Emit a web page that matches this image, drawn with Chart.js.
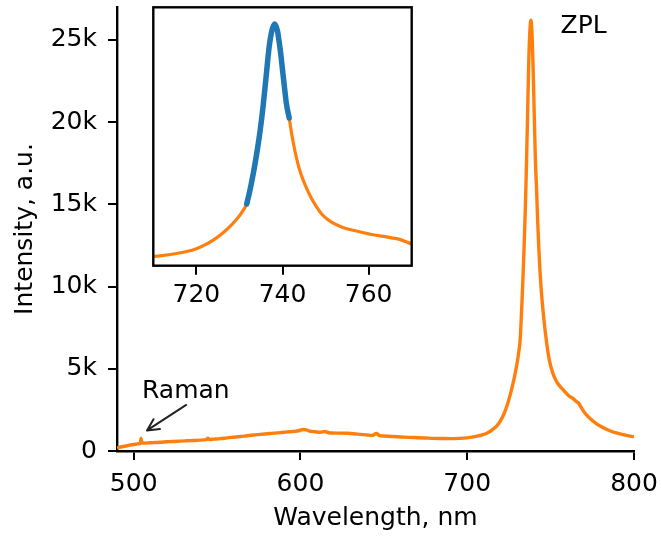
<!DOCTYPE html>
<html>
<head>
<meta charset="utf-8">
<script src="https://cdn.jsdelivr.net/npm/chart.js@4/dist/chart.umd.min.js"></script>
<style>
  html, body { margin: 0; padding: 0; background: #fff; }
  #wrap { position: relative; width: 661px; height: 536px; }
  #mainChart { position: absolute; left: 0; top: 0; }
  #insetChart { position: absolute; left: 140px; top: 0; }
</style>
</head>
<body>
<div id="wrap">
  <canvas id="mainChart" width="661" height="536"></canvas>
  <canvas id="insetChart" width="290" height="310"></canvas>
</div>
<script>
// PL spectrum, nm / counts
const wavelength = [
  490, 493, 496, 499, 502, 504, 504.4, 504.8, 507, 510, 513, 516, 520, 524, 528,
  532, 536, 540, 543.5, 544.5, 545.5, 548, 552, 556, 560, 564, 568, 572, 576, 580,
  584, 588, 592, 596, 599, 601.5, 603.5, 606, 609, 612, 614.5, 617, 620, 624, 628,
  632, 636, 640, 643, 645.5, 647.5, 650, 655, 660, 665, 670, 675, 680, 685, 690,
  695, 700, 703, 706, 709, 712, 715, 718, 720, 722, 724, 726, 728, 730, 731, 731.7,
  732.5, 733.3, 734.0, 734.8, 735.5, 736.2, 736.9, 737.5, 738.15, 738.8, 739.5, 740.2, 740.9, 741.55,
  742.2, 742.9, 743.6, 744.3, 745.3, 746.5, 747.8, 749.1, 750.5, 752, 754, 756.8, 760.7, 763.5,
  765.3, 766.5, 767.5, 769.2, 771.5, 774, 777, 780, 783.5, 787, 791, 795.5, 800
];
const intensity = [
  200, 260, 320, 380, 430, 470, 760, 520, 480, 500, 515, 530, 560, 575, 600,
  620, 640, 660, 690, 780, 700, 720, 750, 800, 840, 880, 930, 975, 1010, 1050,
  1090, 1120, 1160, 1190, 1230, 1310, 1280, 1200, 1170, 1140, 1190, 1110, 1090, 1085, 1075,
  1050, 1010, 975, 950, 1060, 935, 910, 880, 855, 830, 810, 790, 770, 760, 750,
  765, 800, 840, 900, 980, 1100, 1290, 1560, 1850, 2250, 2800, 3500, 4350, 5400, 6100, 6700,
  8300, 10200, 12100, 14600, 17300, 20500, 23700, 25400, 26200, 25500, 23300, 20400, 17600, 16000,
  14100, 12400, 11000, 9900, 8700, 7500, 6450, 5600, 5000, 4550, 4150, 3800, 3380, 3180,
  3020, 2930, 2800, 2500, 2200, 1950, 1700, 1500, 1320, 1170, 1060, 950, 860
];

// fitted ZPL line
const fitWavelength = [
  731.7, 732.5, 733.3, 734.0, 734.8, 735.5, 736.2, 736.9, 737.5, 738.15,
  738.8, 739.5, 740.2, 740.9, 741.55
];
const fitIntensity = [
  6700, 8300, 10200, 12100, 14600, 17300, 20500, 23700, 25400, 26200,
  25500, 23300, 20400, 17600, 16000
];

const mainXTicks = [500, 600, 700, 800];
const mainYTicks = [0, 5000, 10000, 15000, 20000, 25000];
const insetXTicks = [720, 740, 760];

const orange = '#ff7f0e';
const blue = '#1f77b4';
const font = { family: '"DejaVu Sans"', size: 25 };

const toPoints = (xs, ys) => xs.map((x, i) => ({ x: x, y: ys[i] }));
const spectrum = toPoints(wavelength, intensity);
const fit = toPoints(fitWavelength, fitIntensity);

const kLabel = v => v === 0 ? '0' : (v / 1000) + 'k';

const tickGrid = {
  drawOnChartArea: false,
  drawTicks: true,
  tickLength: 9,
  tickWidth: 2,
  tickColor: '#000',
  lineWidth: 2
};

// keep the plot box where the layout padding puts it
const noEdgePadding = s => {
  s.paddingTop = 0;
  s.paddingBottom = 0;
  s.paddingLeft = 0;
  s.paddingRight = 0;
};

// text labels and the Raman arrow, placed in data units
const annotations = {
  id: 'annotations',
  afterDatasetsDraw(chart) {
    const { ctx } = chart;
    const x = chart.scales.x, y = chart.scales.y;
    ctx.save();
    ctx.font = '25px "DejaVu Sans"';
    ctx.fillStyle = '#000';
    ctx.textBaseline = 'alphabetic';
    ctx.textAlign = 'left';
    ctx.fillText('ZPL', x.getPixelForValue(756), y.getPixelForValue(25400));
    ctx.fillText('Raman', x.getPixelForValue(505), y.getPixelForValue(3240));

    const x0 = x.getPixelForValue(531.5), y0 = y.getPixelForValue(2800);
    const x1 = x.getPixelForValue(508), y1 = y.getPixelForValue(1250);
    const a = Math.atan2(y1 - y0, x1 - x0);
    const len = 13, half = 0.47;
    ctx.strokeStyle = '#222';
    ctx.lineWidth = 2;
    ctx.lineCap = 'round';
    ctx.lineJoin = 'round';
    ctx.beginPath();
    ctx.moveTo(x0, y0);
    ctx.lineTo(x1, y1);
    ctx.moveTo(x1 - len * Math.cos(a - half), y1 - len * Math.sin(a - half));
    ctx.lineTo(x1, y1);
    ctx.lineTo(x1 - len * Math.cos(a + half), y1 - len * Math.sin(a + half));
    ctx.stroke();
    ctx.restore();
  }
};

const mainChart = new Chart(document.getElementById('mainChart').getContext('2d'), {
  type: 'line',
  data: {
    datasets: [{
      data: spectrum,
      borderColor: orange,
      borderWidth: 3.4,
      pointRadius: 0,
      fill: false,
      cubicInterpolationMode: 'monotone',
      borderJoinStyle: 'round'
    }]
  },
  options: {
    responsive: false,
    animation: false,
    events: [],
    layout: { padding: { top: 7, right: 27, left: 0, bottom: 0 } },
    plugins: { legend: { display: false }, tooltip: { enabled: false } },
    scales: {
      x: {
        type: 'linear',
        min: 490,
        max: 800,
        afterBuildTicks: s => { s.ticks = mainXTicks.map(v => ({ value: v })); },
        afterFit: s => { s.height = 85; noEdgePadding(s); },
        grid: tickGrid,
        border: { display: true, color: '#000', width: 2.4 },
        ticks: { font: font, color: '#000', padding: 9, maxRotation: 0, autoSkip: false },
        title: { display: true, text: 'Wavelength, nm', font: font, color: '#000', padding: { top: 0, bottom: 3 } }
      },
      y: {
        type: 'linear',
        min: 0,
        max: 27000,
        afterBuildTicks: s => { s.ticks = mainYTicks.map(v => ({ value: v })); },
        afterFit: s => { s.width = 117; noEdgePadding(s); },
        grid: tickGrid,
        border: { display: true, color: '#000', width: 2.4 },
        ticks: { font: font, color: '#000', padding: 11, callback: kLabel },
        title: { display: true, text: 'Intensity, a.u.', font: font, color: '#000', padding: { top: 10, bottom: 0 } }
      }
    }
  },
  plugins: [annotations]
});

// white face and full frame for the zoomed view
const insetFrame = {
  id: 'insetFrame',
  beforeDatasetsDraw(chart) {
    const { ctx, chartArea: c } = chart;
    ctx.save();
    ctx.fillStyle = '#fff';
    ctx.fillRect(c.left, c.top, c.right - c.left, c.bottom - c.top);
    ctx.restore();
  },
  afterDatasetsDraw(chart) {
    const { ctx, chartArea: c } = chart;
    ctx.save();
    ctx.strokeStyle = '#000';
    ctx.lineWidth = 2.4;
    ctx.strokeRect(c.left, c.top, c.right - c.left, c.bottom - c.top);
    ctx.restore();
  }
};

const insetChart = new Chart(document.getElementById('insetChart').getContext('2d'), {
  type: 'line',
  data: {
    datasets: [{
      data: fit,
      borderColor: blue,
      borderWidth: 5.5,
      pointRadius: 0,
      fill: false,
      cubicInterpolationMode: 'monotone',
      borderCapStyle: 'round',
      borderJoinStyle: 'round'
    }, {
      data: spectrum,
      borderColor: orange,
      borderWidth: 3.2,
      pointRadius: 0,
      fill: false,
      cubicInterpolationMode: 'monotone',
      borderJoinStyle: 'round'
    }]
  },
  options: {
    responsive: false,
    animation: false,
    events: [],
    layout: { padding: { top: 7.3, right: 18.3, left: 13.3, bottom: 0 } },
    plugins: { legend: { display: false }, tooltip: { enabled: false } },
    scales: {
      x: {
        type: 'linear',
        min: 710,
        max: 770,
        afterBuildTicks: s => { s.ticks = insetXTicks.map(v => ({ value: v })); },
        afterFit: s => { s.height = 44.3; noEdgePadding(s); },
        grid: tickGrid,
        border: { display: false },
        ticks: { font: font, color: '#000', padding: 6, maxRotation: 0, autoSkip: false }
      },
      y: {
        display: false,
        min: 0,
        max: 28000
      }
    }
  },
  plugins: [insetFrame]
});
</script>
</body>
</html>
